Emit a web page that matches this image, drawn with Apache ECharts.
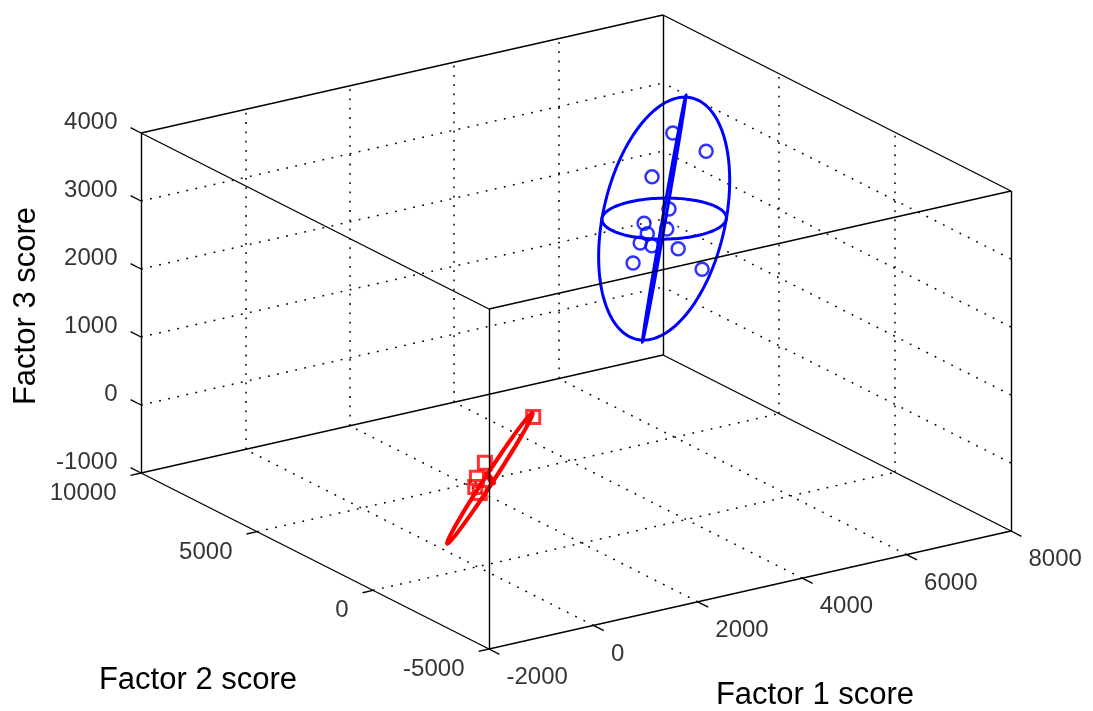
<!DOCTYPE html>
<html>
<head>
<meta charset="utf-8">
<script src="https://cdn.jsdelivr.net/npm/echarts@6/dist/echarts.min.js"></script>
<style>html,body{margin:0;padding:0;background:#fff}#chart{width:1093px;height:711px}</style>
</head>
<body>
<div id="chart"></div>
<script>
// ---------------- data ----------------
const f1Range = [-2000, 8000];
const f2Range = [-5000, 10000];
const f3Range = [-1000, 4000];
const f1Ticks = [-2000, 0, 2000, 4000, 6000, 8000];
const f2Ticks = [-5000, 0, 5000, 10000];
const f3Ticks = [-1000, 0, 1000, 2000, 3000, 4000];

// group 1 (blue circles): Factor 1, Factor 2, Factor 3 scores
const blueF1 = [6410, 6160, 5790, 5670, 5860, 5850, 5430, 5210, 5980, 5560, 6260, 5610];
const blueF2 = [6000, 4000, 5500, 4500, 6000, 5000, 5200, 4200, 4800, 5800, 4400, 5300];
const blueF3 = [3230, 3350, 2780, 2500, 2000, 2090, 1920, 2090, 1810, 1500, 1530, 2010];
// group 2 (red squares)
const redF1 = [1380, 10, 80, -130, 90];
const redF2 = [700, -300, 200, -200, 100];
const redF3 = [840, 580, 260, 230, 50];

// ellipsoid centres and principal semi-axes (data units)
const blueCenter = [5800, 5000, 2250];
const blueAxis1 = [540, 305, 1640];
const blueAxis2 = [795, -885, 0];
const blueAxis3 = [1122, 2300, -290];
const redCenter = [240, 0, 260];
const redAxis1 = [1086, 600, 669];
const redAxis2 = [-30, -227, 0];
const redAxis3 = [-8.7, 67, 53];

// ---------------- view (layout) ----------------
const W = 1093, H = 711;
const VIEW = { o: [489, 649], x: [1011, 531], y: [141, 473], z: [489, 309] };
function proj(a, b, c) {
  const u = (a - f1Range[0]) / (f1Range[1] - f1Range[0]);
  const v = (b - f2Range[0]) / (f2Range[1] - f2Range[0]);
  const w = (c - f3Range[0]) / (f3Range[1] - f3Range[0]);
  const o = VIEW.o;
  return [
    o[0] + u * (VIEW.x[0] - o[0]) + v * (VIEW.y[0] - o[0]) + w * (VIEW.z[0] - o[0]),
    o[1] + u * (VIEW.x[1] - o[1]) + v * (VIEW.y[1] - o[1]) + w * (VIEW.z[1] - o[1])
  ];
}
function seg(p, q) { return { coords: [proj(p[0], p[1], p[2]), proj(q[0], q[1], q[2])] }; }

const [x0, x1] = f1Range, [y0, y1] = f2Range, [z0, z1] = f3Range;

// box edges
const boxEdges = [];
[y0, y1].forEach(b => [z0, z1].forEach(c => boxEdges.push(seg([x0, b, c], [x1, b, c]))));
[x0, x1].forEach(a => [z0, z1].forEach(c => boxEdges.push(seg([a, y0, c], [a, y1, c]))));
[x0, x1].forEach(a => [y0, y1].forEach(b => boxEdges.push(seg([a, b, z0], [a, b, z1]))));

// dotted grid on floor and the two back walls
const gridLines = [];
f1Ticks.filter(t => t > x0 && t < x1).forEach(t => {
  gridLines.push(seg([t, y0, z0], [t, y1, z0]));
  gridLines.push(seg([t, y1, z0], [t, y1, z1]));
});
f2Ticks.filter(t => t > y0 && t < y1).forEach(t => {
  gridLines.push(seg([x0, t, z0], [x1, t, z0]));
  gridLines.push(seg([x1, t, z0], [x1, t, z1]));
});
f3Ticks.filter(t => t > z0 && t < z1).forEach(t => {
  gridLines.push(seg([x0, y1, t], [x1, y1, t]));
  gridLines.push(seg([x1, y0, t], [x1, y1, t]));
});

// tick marks
const tickLines = [];
f1Ticks.forEach(t => tickLines.push(seg([t, y0, z0], [t, y0 - 450, z0])));
f2Ticks.forEach(t => tickLines.push(seg([x0, t, z0], [x0 - 200, t, z0])));
f3Ticks.forEach(t => tickLines.push(seg([x0, y1, t], [x0, y1 + 450, t])));

// ellipsoid principal ellipses
function ellipse(c, a, b) {
  const pts = [];
  const n = 140;
  for (let k = 0; k <= n; k++) {
    const t = 2 * Math.PI * k / n, ct = Math.cos(t), st = Math.sin(t);
    pts.push(proj(c[0] + a[0] * ct + b[0] * st, c[1] + a[1] * ct + b[1] * st, c[2] + a[2] * ct + b[2] * st));
  }
  return { coords: pts };
}
const blueEllipses = [ellipse(blueCenter, blueAxis1, blueAxis2), ellipse(blueCenter, blueAxis1, blueAxis3), ellipse(blueCenter, blueAxis2, blueAxis3)];
const redEllipses = [ellipse(redCenter, redAxis1, redAxis2), ellipse(redCenter, redAxis1, redAxis3), ellipse(redCenter, redAxis2, redAxis3)];

const FONT = 'Liberation Sans, Arial, Helvetica, sans-serif';
function labelSeries(items, align, offset) {
  return {
    type: 'scatter', silent: true, symbolSize: 1, z: 10,
    itemStyle: { color: 'rgba(0,0,0,0)' },
    data: items,
    label: { show: true, position: [0, 0], offset: offset, align: align, verticalAlign: 'middle',
      formatter: p => p.name, color: '#000', fontSize: 24, fontFamily: FONT }
  };
}
const f3Labels = f3Ticks.map(t => ({ name: String(t), value: proj(x0, y1, t) }));
const f1Labels = f1Ticks.map(t => ({ name: String(t), value: proj(t, y0, z0) }));
const f2Labels = f2Ticks.map(t => ({ name: String(t), value: proj(x0, t, z0) }));

const chart = echarts.init(document.getElementById('chart'), null, { renderer: 'canvas' });
chart.setOption({
  animation: false,
  backgroundColor: '#fff',
  grid: { left: 0, right: 0, top: 0, bottom: 0 },
  xAxis: { type: 'value', min: 0, max: W, show: false },
  yAxis: { type: 'value', min: 0, max: H, inverse: true, show: false },
  series: [
    { type: 'lines', coordinateSystem: 'cartesian2d', silent: true, z: 1,
      lineStyle: { color: '#000', width: 1.5, type: [1.8, 7.5], opacity: 1 }, data: gridLines },
    { type: 'lines', coordinateSystem: 'cartesian2d', polyline: true, silent: true, z: 3,
      lineStyle: { color: '#ff0000', width: 3.5, opacity: 1 }, data: redEllipses },
    { type: 'lines', coordinateSystem: 'cartesian2d', polyline: true, silent: true, z: 3,
      lineStyle: { color: '#0000ff', width: 3, opacity: 1 }, data: blueEllipses },
    { type: 'scatter', silent: true, z: 4, symbol: 'circle', symbolSize: 13,
      itemStyle: { color: 'rgba(0,0,0,0)', borderColor: '#0000ff', borderWidth: 2.5 },
      data: blueF1.map((v, i) => proj(v, blueF2[i], blueF3[i])) },
    { type: 'scatter', silent: true, z: 4, symbol: 'rect', symbolSize: 13,
      itemStyle: { color: 'rgba(0,0,0,0)', borderColor: '#ff0000', borderWidth: 3 },
      data: redF1.map((v, i) => proj(v, redF2[i], redF3[i])) },
    { type: 'lines', coordinateSystem: 'cartesian2d', silent: true, z: 6,
      lineStyle: { color: '#000', width: 1.4, opacity: 1 }, data: boxEdges },
    { type: 'lines', coordinateSystem: 'cartesian2d', silent: true, z: 6,
      lineStyle: { color: '#000', width: 1.4, opacity: 1 }, data: tickLines },
    labelSeries(f3Labels, 'right', [-23, -10]),
    labelSeries(f1Labels, 'left', [18, 29]),
    labelSeries(f2Labels, 'right', [-24, 21])
  ],
  graphic: [
    { type: 'text', x: 26, y: 306, rotation: Math.PI / 2, silent: true,
      style: { text: 'Factor 3 score', fill: '#000', font: '31px ' + FONT, align: 'center', verticalAlign: 'middle', textAlign: 'center', textVerticalAlign: 'middle' } },
    { type: 'text', x: 198, y: 680, silent: true,
      style: { text: 'Factor 2 score', fill: '#000', font: '31px ' + FONT, align: 'center', verticalAlign: 'middle', textAlign: 'center', textVerticalAlign: 'middle' } },
    { type: 'text', x: 815, y: 695, silent: true,
      style: { text: 'Factor 1 score', fill: '#000', font: '31px ' + FONT, align: 'center', verticalAlign: 'middle', textAlign: 'center', textVerticalAlign: 'middle' } }
  ]
});
</script>
</body>
</html>
